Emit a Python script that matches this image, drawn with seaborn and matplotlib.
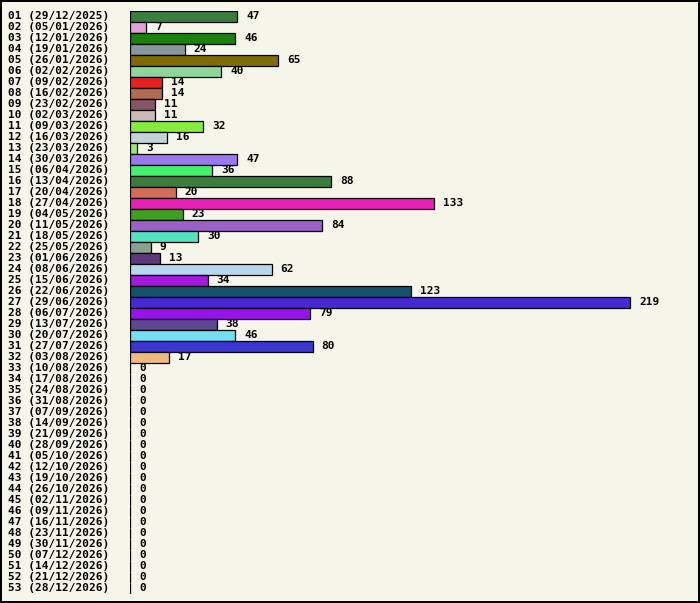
import matplotlib
matplotlib.use("Agg")
import matplotlib.pyplot as plt
import seaborn as sns
import pandas as pd

weeks = ["01 (29/12/2025)", "02 (05/01/2026)", "03 (12/01/2026)", "04 (19/01/2026)",
         "05 (26/01/2026)", "06 (02/02/2026)", "07 (09/02/2026)", "08 (16/02/2026)",
         "09 (23/02/2026)", "10 (02/03/2026)", "11 (09/03/2026)", "12 (16/03/2026)",
         "13 (23/03/2026)", "14 (30/03/2026)", "15 (06/04/2026)", "16 (13/04/2026)",
         "17 (20/04/2026)", "18 (27/04/2026)", "19 (04/05/2026)", "20 (11/05/2026)",
         "21 (18/05/2026)", "22 (25/05/2026)", "23 (01/06/2026)", "24 (08/06/2026)",
         "25 (15/06/2026)", "26 (22/06/2026)", "27 (29/06/2026)", "28 (06/07/2026)",
         "29 (13/07/2026)", "30 (20/07/2026)", "31 (27/07/2026)", "32 (03/08/2026)",
         "33 (10/08/2026)", "34 (17/08/2026)", "35 (24/08/2026)", "36 (31/08/2026)",
         "37 (07/09/2026)", "38 (14/09/2026)", "39 (21/09/2026)", "40 (28/09/2026)",
         "41 (05/10/2026)", "42 (12/10/2026)", "43 (19/10/2026)", "44 (26/10/2026)",
         "45 (02/11/2026)", "46 (09/11/2026)", "47 (16/11/2026)", "48 (23/11/2026)",
         "49 (30/11/2026)", "50 (07/12/2026)", "51 (14/12/2026)", "52 (21/12/2026)",
         "53 (28/12/2026)"]

counts = [47, 7, 46, 24, 65, 40, 14, 14, 11, 11, 32, 16, 3, 47, 36, 88, 20, 133, 23, 84,
          30, 9, 13, 62, 34, 123, 219, 79, 38, 46, 80, 17] + [0] * 21

bar_colors = ["#3b7f3f", "#e3a1d9", "#18820a", "#87999f", "#7f6c00", "#8cd89a", "#ec1f1f",
              "#b06b51", "#855667", "#c8bab5", "#86ed38", "#c3d4d8", "#a0e85f", "#9b78f0",
              "#3ff36a", "#3a7e3c", "#d76c56", "#ea1fba", "#3ca11c", "#9b61c6", "#52e3bf",
              "#89a28e", "#5e3a7c", "#b7d7ef", "#a818e0", "#11536b", "#4628d6", "#9a11ef",
              "#5d488f", "#70e1f1", "#3a35d3", "#f2bb7c"] + ["#cccccc"] * 21

df = pd.DataFrame({"week": weeks, "count": counts})

bg = "#f5f5ea"
W, H = 700, 603
fig = plt.figure(figsize=(W / 100, H / 100), dpi=100, facecolor=bg)
fig.patch.set_edgecolor("black")
fig.patch.set_linewidth(1.5)

ax_left = 130 / W
ax_w = (690 - 130) / W
top_px = 10.5
bot_px = top_px + 53 * 11.0
ax = fig.add_axes([ax_left, (H - bot_px) / H, ax_w, (bot_px - top_px) / H])
ax.set_facecolor(bg)

sns.barplot(data=df, x="count", y="week", hue="week", palette=bar_colors,
            legend=False, orient="h", width=1.0, edgecolor="black",
            linewidth=0.9, saturation=1, ax=ax)

xmax = 219 * (690 - 130) / (630 - 130)
ax.set_xlim(0, xmax)
ax.set_ylim(52.5, -0.5)

mono = "DejaVu Sans Mono"
fs = 8.0
for bar, v in zip(ax.patches, counts):
    ax.annotate(str(v), (bar.get_width(), bar.get_y() + bar.get_height() / 2),
                xytext=(6.5, 0), textcoords="offset points", va="center", ha="left",
                fontsize=fs, fontweight="bold", family=mono, color="black")

ax.set_yticks(range(len(weeks)))
ax.set_yticklabels(weeks, fontsize=fs, fontweight="bold", family=mono, ha="left",
                   va="center")
ax.tick_params(axis="y", length=0, pad=(130 - 8) * 0.72)
ax.tick_params(axis="x", length=0, labelbottom=False)
ax.set_xlabel("")
ax.set_ylabel("")
for s in ax.spines.values():
    s.set_visible(False)

fig.savefig("out.png", dpi=100, facecolor=bg, edgecolor="black")
